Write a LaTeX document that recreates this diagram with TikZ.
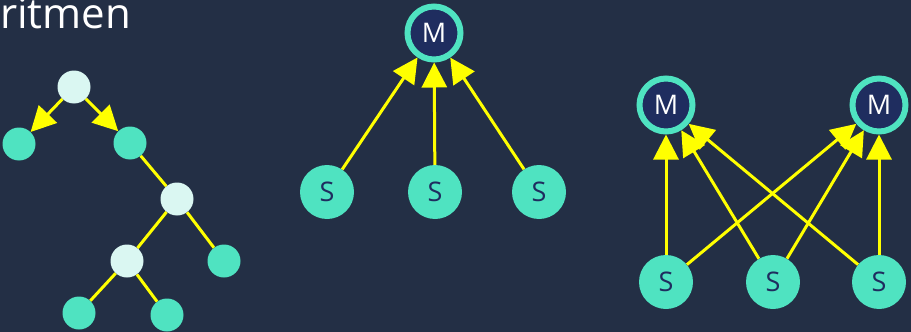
\documentclass[tikz,border=0pt]{standalone}
\usepackage{fontspec}
\setmainfont{Open Sans}
\usetikzlibrary{arrows.meta}
\definecolor{bgblue}{RGB}{35,47,69}
\definecolor{mint}{RGB}{79,227,193}
\definecolor{pale}{RGB}{218,247,242}
\definecolor{navy}{RGB}{31,45,95}
\definecolor{hot}{RGB}{255,255,0}
\begin{document}
\begin{tikzpicture}[x=1pt,y=-1pt,
    inner/.style={circle,fill=pale,minimum size=33pt,inner sep=0pt},
    leaf/.style={circle,fill=mint,minimum size=33pt,inner sep=0pt},
    master/.style={circle,draw=mint,line width=6pt,fill=navy,minimum size=53pt,inner sep=0pt,
        text=white,font=\fontsize{27}{27}\selectfont},
    worker/.style={circle,fill=mint,minimum size=54pt,inner sep=0pt,
        text=navy,font=\fontsize{27}{27}\selectfont},
    link/.style={draw=hot,line width=3pt},
    arr/.style={link,-{Triangle[length=25pt,width=25pt]}}]
            \useasboundingbox (0,0) rectangle (911,332);
            \fill[bgblue] (0,0) rectangle (911,332);
            \draw (0,28) node[anchor=base west,inner sep=0pt,text=white,
                  font=\fontsize{42}{42}\selectfont] (title) {ritmen};
            % tree
            \draw (74,87) node[inner] (root) {};
            \draw (19,144) node[leaf] (lone) {};
            \draw (130,143) node[leaf] (rone) {};
            \draw (177,199) node[inner] (mid) {};
            \draw (127,261) node[inner] (low) {};
            \draw (224,261) node[leaf] (rtwo) {};
            \draw (79,313) node[leaf] (bl) {};
            \draw (167,315) node[leaf] (br) {};
            \draw[arr] (root) -- (lone);
            \draw[arr] (root) -- (rone);
            \draw[link] (rone) -- (mid)
                  (mid) -- (low)
                  (mid) -- (rtwo)
                  (low) -- (bl)
                  (low) -- (br);
            % one master
            \draw (434,33) node[master] (m) {M};
            \draw (327,192) node[worker] (sa) {S};
            \draw (435,192) node[worker] (sb) {S};
            \draw (539,192) node[worker] (sc) {S};
            \draw[arr] (sa) -- (m);
            \draw[arr] (sb) -- (m);
            \draw[arr] (sc) -- (m);
            % two masters
            \draw (666,105) node[master] (ma) {M};
            \draw (879,105) node[master] (mb) {M};
            \draw (666,282) node[worker] (wa) {S};
            \draw (773,282) node[worker] (wb) {S};
            \draw (879,282) node[worker] (wc) {S};
            \draw[arr] (wa) -- (ma);
            \draw[arr] (wa) -- (mb);
            \draw[arr] (wb) -- (ma);
            \draw[arr] (wb) -- (mb);
            \draw[arr] (wc) -- (ma);
            \draw[arr] (wc) -- (mb);
\end{tikzpicture}
\end{document}
